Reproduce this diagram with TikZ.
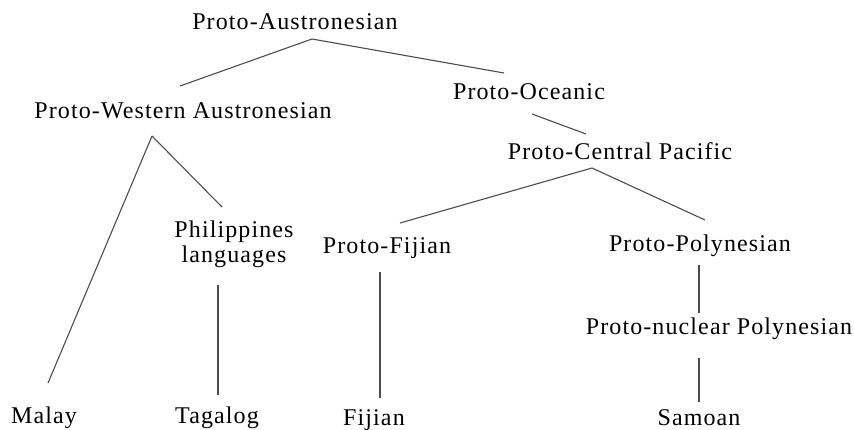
\documentclass[tikz,border=0pt]{standalone}
\usepackage{fontspec}
\setmainfont{Liberation Serif}[LetterSpace=4.6]
\usetikzlibrary{calc}
\tikzset{
  lang/.style={inner sep=0pt, anchor=base, font=\fontsize{12}{12.5}\selectfont},
  branch/.style={draw=black!70, line width=0.55pt}
}
\begin{document}
\begin{tikzpicture}[x=0.5pt, y=-0.5pt]
    \useasboundingbox (0,0) rectangle (854,429);
    % Proto-languages
    \node[lang] (pa) at (295,29) {Proto-Austronesian};
    \node[lang] (pwa) at (183,118) {Proto-Western Austronesian};
    \node[lang] (po) at (529,99) {Proto-Oceanic};
    \node[lang] (pcp) at (620,159) {Proto-Central Pacific};
    \node[lang, anchor=center, align=center] (phil) at (234,244) {Philippines\\languages};
    \node[lang] (pf) at (387,253) {Proto-Fijian};
    \node[lang] (pp) at (700,251) {Proto-Polynesian};
    \node[lang] (pnp) at (719,334) {Proto-nuclear Polynesian};
    % Modern languages
    \node[lang] (malay) at (44,423) {Malay};
    \node[lang] (tagalog) at (217,423) {Tagalog};
    \node[lang] (fijian) at (374,425) {Fijian};
    \node[lang] (samoan) at (699,425) {Samoan};
    % Branches
    \draw[branch] ($(pa.base)+(17,10)$) -- ($(pwa.base)+(-3,-32)$);
    \draw[branch] ($(pa.base)+(17,10)$) -- ($(po.base)+(-25,-26)$);
    \draw[branch] ($(po.base)+(3,15)$) -- ($(pcp.base)+(-34,-25)$);
    \draw[branch] ($(pcp.base)+(-28,9)$) -- ($(pf.base)+(13,-30)$);
    \draw[branch] ($(pcp.base)+(-28,9)$) -- ($(pp.base)+(5,-31)$);
    \draw[branch] ($(pwa.base)+(-31,18)$) -- ($(malay.base)+(4,-40)$);
    \draw[branch] ($(pwa.base)+(-31,18)$) -- ($(phil.center)+(-12,-37)$);
    \draw[branch] ($(phil.center)+(-16,41)$) -- ($(tagalog.base)+(1,-28)$);
    \draw[branch] ($(pf.base)+(-7,19)$) -- ($(fijian.base)+(6,-27)$);
    \draw[branch] ($(pp.base)+(-1,14)$) -- ($(pnp.base)+(-20,-21)$);
    \draw[branch] ($(pnp.base)+(-20,24)$) -- ($(samoan.base)+(0,-23)$);
\end{tikzpicture}
\end{document}
